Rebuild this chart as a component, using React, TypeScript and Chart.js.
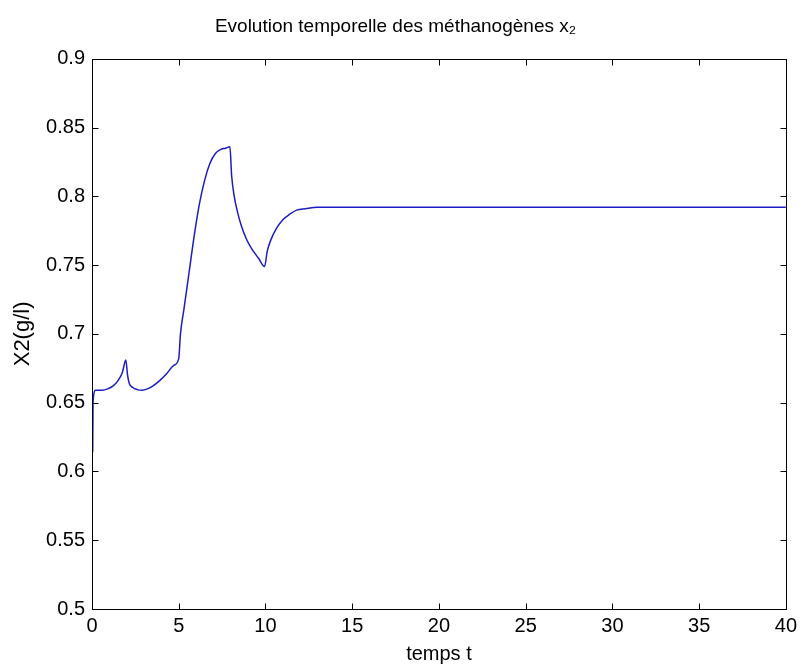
import React, { useEffect, useRef } from 'react';
import { Chart, registerables } from 'chart.js';

Chart.register(...registerables);

// ---- Data ----
const timeValues = [
  0.04, 0.06, 0.2, 0.6, 0.9, 1.2, 1.5, 1.75, 1.95, 2.05, 2.15, 2.35, 2.6, 2.9, 3.2, 3.5,
  3.9, 4.3, 4.7, 5.0, 5.1, 5.3, 5.6, 5.9, 6.2, 6.5, 6.8, 7.1, 7.4, 7.7, 7.95, 8.05, 8.2,
  8.4, 8.6, 8.9, 9.2, 9.6, 9.95, 10.1, 10.3, 10.6, 11.0, 11.4, 11.8, 12.3, 13.0, 40,
];
const x2Values = [
  0.614, 0.65, 0.659, 0.659, 0.66, 0.662, 0.666, 0.672, 0.681, 0.67, 0.664, 0.661, 0.6595,
  0.659, 0.66, 0.662, 0.666, 0.671, 0.677, 0.682, 0.7, 0.718, 0.745, 0.772, 0.795, 0.812,
  0.824, 0.831, 0.834, 0.835, 0.836, 0.815, 0.8, 0.788, 0.779, 0.769, 0.762, 0.755, 0.749,
  0.76, 0.768, 0.776, 0.783, 0.787, 0.79, 0.791, 0.792, 0.792,
];
const xTickValues = [0, 5, 10, 15, 20, 25, 30, 35, 40];
const xTickLabels = ['0', '5', '10', '15', '20', '25', '30', '35', '40'];
const yTickValues = [0.5, 0.55, 0.6, 0.65, 0.7, 0.75, 0.8, 0.85, 0.9];
const yTickLabels = ['0.5', '0.55', '0.6', '0.65', '0.7', '0.75', '0.8', '0.85', '0.9'];
const chartTitle = 'Evolution temporelle des méthanogènes x\u2082';
const xAxisLabel = 'temps t';
const yAxisLabel = 'X2(g/l)';

const FONT = "'Liberation Sans', Arial, sans-serif";

const inwardTicks = {
  id: 'inwardTicks',
  afterDraw(chart: any) {
    const { ctx, chartArea } = chart;
    const { left, right, top, bottom } = chartArea;
    const xs = chart.scales.x;
    const ys = chart.scales.y;
    const L = 6;
    ctx.save();
    ctx.strokeStyle = '#000';
    ctx.lineWidth = 1;
    const l = Math.round(left) + 0.5;
    const r = Math.round(right) + 0.5;
    const t = Math.round(top) + 0.5;
    const b = Math.round(bottom) + 0.5;
    ctx.strokeRect(l, t, r - l, b - t);
    ctx.beginPath();
    xs.ticks.forEach((tk: any) => {
      const px = Math.round(xs.getPixelForValue(tk.value)) + 0.5;
      ctx.moveTo(px, b);
      ctx.lineTo(px, b - L);
      ctx.moveTo(px, t);
      ctx.lineTo(px, t + L);
    });
    ys.ticks.forEach((tk: any) => {
      const py = Math.round(ys.getPixelForValue(tk.value)) + 0.5;
      ctx.moveTo(l, py);
      ctx.lineTo(l + L, py);
      ctx.moveTo(r, py);
      ctx.lineTo(r - L, py);
    });
    ctx.stroke();
    ctx.restore();
  },
};

export default function App() {
  const ref = useRef<HTMLCanvasElement | null>(null);

  useEffect(() => {
    if (!ref.current) return;
    const points = timeValues.map((t, i) => ({ x: t, y: x2Values[i] }));
    const chart = new Chart(ref.current, {
      type: 'line',
      data: {
        datasets: [
          {
            data: points,
            borderColor: '#1c1cc4',
            borderWidth: 1.5,
            pointRadius: 0,
            cubicInterpolationMode: 'monotone',
            fill: false,
          },
        ],
      },
      options: {
        animation: false,
        responsive: false,
        devicePixelRatio: 1,
        layout: { padding: { left: 0, right: 11, top: 0, bottom: 0 } },
        plugins: {
          legend: { display: false },
          tooltip: { enabled: false },
          title: {
            display: true,
            text: chartTitle,
            color: '#000',
            font: { family: FONT, size: 19, weight: 'normal' },
            padding: { top: 15, bottom: 21 },
          },
        },
        scales: {
          x: {
            type: 'linear',
            min: 0,
            max: 40,
            grid: { display: false, drawTicks: false },
            border: { display: false },
            afterBuildTicks: (s: any) => {
              s.ticks = xTickValues.map((v) => ({ value: v }));
            },
            afterFit: (s: any) => {
              s.height = 57;
            },
            ticks: {
              color: '#000',
              font: { family: FONT, size: 20 },
              padding: 5,
              maxRotation: 0,
              callback: (_v: any, i: number) => xTickLabels[i],
            },
            title: {
              display: true,
              text: xAxisLabel,
              color: '#000',
              font: { family: FONT, size: 20 },
              padding: { top: 2, bottom: 0 },
            },
          },
          y: {
            type: 'linear',
            min: 0.5,
            max: 0.9,
            grid: { display: false, drawTicks: false },
            border: { display: false },
            afterBuildTicks: (s: any) => {
              s.ticks = yTickValues.map((v) => ({ value: v }));
            },
            afterFit: (s: any) => {
              s.width = 92;
            },
            ticks: {
              color: '#000',
              font: { family: FONT, size: 20 },
              padding: 7,
              callback: (_v: any, i: number) => yTickLabels[i],
            },
            title: {
              display: true,
              text: yAxisLabel,
              color: '#000',
              font: { family: FONT, size: 22 },
              padding: { top: 10, bottom: 0 },
            },
          },
        },
      },
      plugins: [inwardTicks],
    } as any);
    return () => chart.destroy();
  }, []);

  return (
    <div style={{ position: 'absolute', left: 0, top: 0, width: 802, height: 666, background: '#fff' }}>
      <canvas ref={ref} width={802} height={666} />
    </div>
  );
}
